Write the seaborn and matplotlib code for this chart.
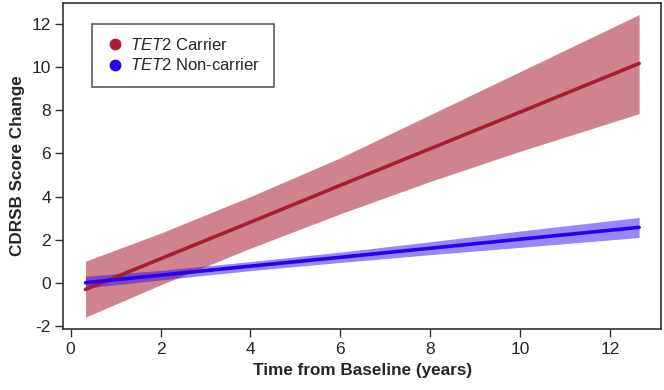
import numpy as np
import pandas as pd
import seaborn as sns
import matplotlib.pyplot as plt
from matplotlib.lines import Line2D

# Values
years = [0.33, 2, 4, 6, 8, 10, 12.65]

carrier_fit = [-0.31, 1.11, 2.81, 4.52, 6.22, 7.92, 10.18]
carrier_lo = [-1.60, -0.10, 1.60, 3.20, 4.70, 6.10, 7.85]
carrier_hi = [1.00, 2.30, 4.00, 5.80, 7.80, 9.80, 12.45]

noncarrier_fit = [0.00, 0.35, 0.77, 1.18, 1.60, 2.02, 2.57]
noncarrier_lo = [-0.25, 0.13, 0.56, 0.94, 1.30, 1.64, 2.10]
noncarrier_hi = [0.30, 0.57, 0.98, 1.42, 1.90, 2.40, 3.03]

x_ticks = [0, 2, 4, 6, 8, 10, 12]
y_ticks = [-2, 0, 2, 4, 6, 8, 10, 12]

red = "#A81E32"
blue = "#2A00F0"

sns.set_theme(style="white")
plt.rcParams["font.family"] = ["Liberation Sans", "DejaVu Sans"]
plt.rcParams["mathtext.fontset"] = "custom"
plt.rcParams["mathtext.it"] = "Liberation Sans:italic"
plt.rcParams["mathtext.rm"] = "Liberation Sans"
plt.rcParams["axes.unicode_minus"] = False

df = pd.DataFrame({
    "years": years * 2,
    "fit": carrier_fit + noncarrier_fit,
    "group": ["Carrier"] * len(years) + ["Non-carrier"] * len(years),
})

fig = plt.figure(figsize=(6.64, 3.90), dpi=100)
ax = fig.add_axes([0.0956, 0.1564, 0.8994, 0.8366])

ax.fill_between(years, carrier_lo, carrier_hi, color=red, alpha=0.55, lw=0)
ax.fill_between(years, noncarrier_lo, noncarrier_hi, color=blue, alpha=0.47, lw=0)
sns.lineplot(data=df, x="years", y="fit", hue="group",
             palette={"Carrier": red, "Non-carrier": blue},
             linewidth=2.6, legend=False, ax=ax)

ax.set_xlim(-0.16, 13.13)
ax.set_ylim(-2.15, 13.0)
ax.set_xticks(x_ticks)
ax.set_yticks(y_ticks)
ax.tick_params(axis="both", which="major", direction="out", length=6,
               width=1, color="#333333", labelsize=12.5, bottom=True, left=True, pad=3)
for s in ax.spines.values():
    s.set_color("#333333")
    s.set_linewidth(1.2)

ax.set_xlabel("Time from Baseline (years)", fontsize=12.3, fontweight="bold", labelpad=5)
ax.set_ylabel("CDRSB Score Change", fontsize=12.3, fontweight="bold", labelpad=5)

handles = [
    Line2D([], [], marker="o", ls="", color=red, markersize=7.5),
    Line2D([], [], marker="o", ls="", color=blue, markersize=7.5),
]
labels = [r"$\it{TET2}$ Carrier", r"$\it{TET2}$ Non-carrier"]
leg = ax.legend(handles, labels, loc="upper left", bbox_to_anchor=(0.048, 0.935),
                borderaxespad=0, fontsize=12, frameon=True, fancybox=False,
                handletextpad=0.4, borderpad=0.8, labelspacing=0.25, handlelength=1.1)
leg.get_frame().set_edgecolor("#333333")
leg.get_frame().set_linewidth(1.2)

fig.savefig("out.png", dpi=100)
